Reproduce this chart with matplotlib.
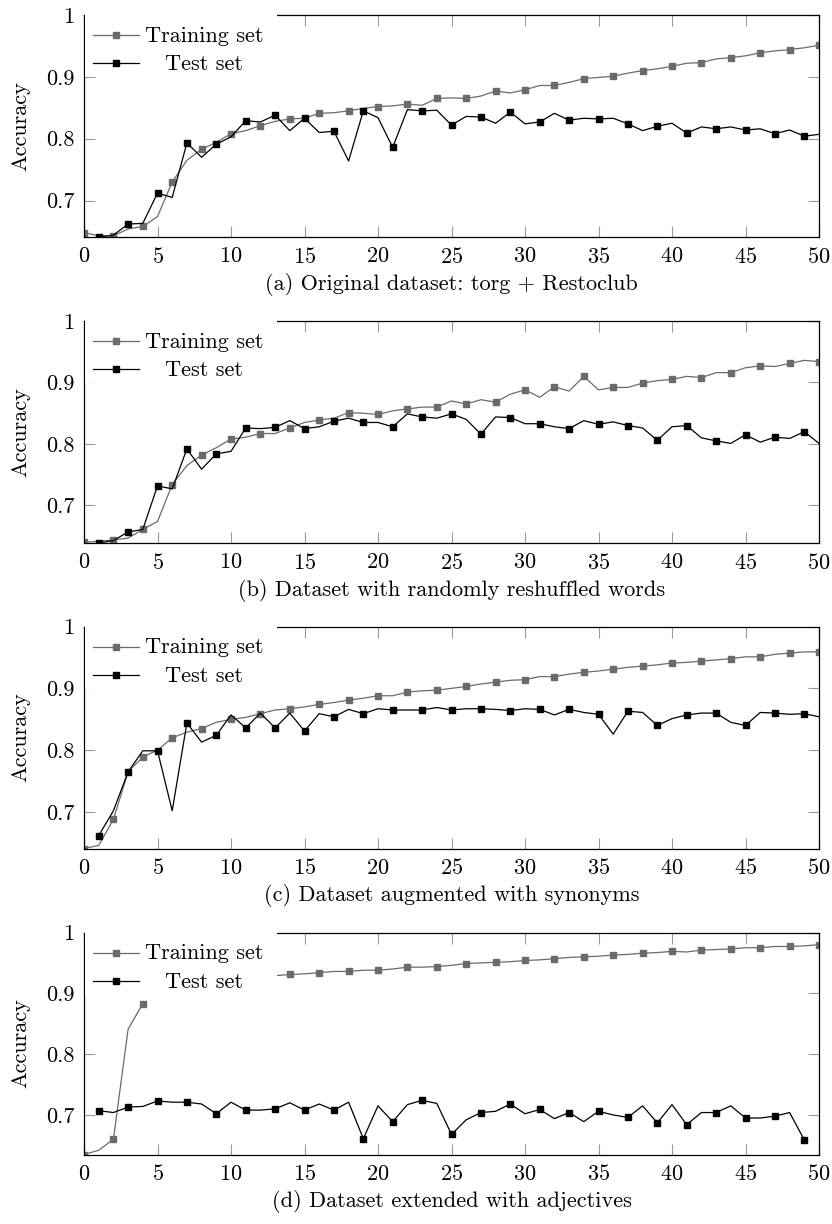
import numpy as np
import matplotlib
matplotlib.use("Agg")
import matplotlib.pyplot as plt
from matplotlib.patches import Rectangle
from matplotlib.lines import Line2D
from matplotlib.ticker import FuncFormatter

plt.rcParams['font.family'] = ['cmr10', 'DejaVu Serif']
plt.rcParams['axes.formatter.use_mathtext'] = True
plt.rcParams['font.size'] = 16

nan = np.nan

# epochs
epochs = list(range(51))

captions = [
    '(a) Original dataset: torg + Restoclub',
    '(b) Dataset with randomly reshuffled words',
    '(c) Dataset augmented with synonyms',
    '(d) Dataset extended with adjectives',
]

# training accuracy, epochs 0..50
train_a = [0.648, 0.643, 0.643, 0.654, 0.658, 0.674, 0.730, 0.765, 0.783, 0.794, 0.808,
           0.813, 0.821, 0.828, 0.832, 0.833, 0.841, 0.842, 0.845, 0.849, 0.852,
           0.853, 0.856, 0.854, 0.865, 0.866, 0.865, 0.869, 0.877, 0.874, 0.879,
           0.886, 0.886, 0.891, 0.897, 0.899, 0.901, 0.906, 0.910, 0.913, 0.917,
           0.922, 0.923, 0.929, 0.931, 0.934, 0.939, 0.942, 0.944, 0.947, 0.951]
train_b = [0.640, 0.642, 0.644, 0.647, 0.661, 0.674, 0.734, 0.765, 0.782, 0.794, 0.808,
           0.811, 0.817, 0.817, 0.826, 0.835, 0.839, 0.842, 0.851, 0.850, 0.848,
           0.854, 0.857, 0.860, 0.860, 0.870, 0.865, 0.872, 0.868, 0.881, 0.888,
           0.876, 0.893, 0.886, 0.910, 0.888, 0.892, 0.892, 0.899, 0.903, 0.905,
           0.910, 0.908, 0.916, 0.916, 0.924, 0.927, 0.926, 0.931, 0.936, 0.934]
train_c = [0.641, 0.646, 0.688, 0.765, 0.789, 0.800, 0.820, 0.829, 0.835, 0.845, 0.850,
           0.853, 0.859, 0.865, 0.867, 0.870, 0.874, 0.877, 0.881, 0.884, 0.888,
           0.888, 0.894, 0.896, 0.897, 0.900, 0.903, 0.907, 0.910, 0.913, 0.914,
           0.919, 0.919, 0.923, 0.926, 0.928, 0.931, 0.934, 0.936, 0.938, 0.941,
           0.942, 0.944, 0.946, 0.948, 0.951, 0.951, 0.955, 0.957, 0.959, 0.959]
# epochs 5..12 are hidden behind the legend in the original
train_d = [0.635, 0.642, 0.660, 0.841, 0.883,
           nan, nan, nan, nan, nan, nan, nan, nan,
           0.929, 0.931, 0.932, 0.934, 0.936, 0.936, 0.938, 0.938,
           0.940, 0.943, 0.943, 0.944, 0.946, 0.949, 0.950, 0.951, 0.952, 0.954,
           0.955, 0.957, 0.959, 0.960, 0.961, 0.963, 0.964, 0.966, 0.967, 0.969,
           0.968, 0.971, 0.972, 0.973, 0.975, 0.975, 0.977, 0.977, 0.978, 0.980]

# test accuracy, epochs 1..50 (1..49 for d)
test_a = [0.641, 0.644, 0.662, 0.663, 0.712, 0.705, 0.793, 0.770, 0.791, 0.803,
          0.829, 0.827, 0.838, 0.813, 0.833, 0.810, 0.812, 0.764, 0.845, 0.834,
          0.786, 0.847, 0.845, 0.846, 0.822, 0.836, 0.835, 0.825, 0.843, 0.824,
          0.827, 0.841, 0.830, 0.833, 0.832, 0.833, 0.824, 0.813, 0.820, 0.825,
          0.809, 0.819, 0.816, 0.819, 0.814, 0.816, 0.808, 0.814, 0.804, 0.807]
test_b = [0.639, 0.643, 0.657, 0.661, 0.732, 0.727, 0.792, 0.759, 0.784, 0.788,
          0.826, 0.825, 0.827, 0.838, 0.825, 0.828, 0.837, 0.842, 0.835, 0.835,
          0.828, 0.849, 0.844, 0.842, 0.849, 0.840, 0.816, 0.844, 0.843, 0.833,
          0.833, 0.828, 0.825, 0.838, 0.832, 0.836, 0.830, 0.826, 0.806, 0.828,
          0.830, 0.810, 0.805, 0.801, 0.815, 0.803, 0.811, 0.809, 0.820, 0.801]
test_c = [0.662, 0.702, 0.765, 0.799, 0.799, 0.702, 0.844, 0.813, 0.824, 0.857,
          0.836, 0.860, 0.836, 0.860, 0.831, 0.859, 0.854, 0.866, 0.859, 0.867,
          0.865, 0.865, 0.865, 0.869, 0.865, 0.867, 0.867, 0.866, 0.864, 0.867,
          0.866, 0.857, 0.866, 0.861, 0.858, 0.826, 0.863, 0.861, 0.840, 0.851,
          0.857, 0.860, 0.860, 0.845, 0.840, 0.861, 0.860, 0.858, 0.859, 0.854]
test_d = [0.707, 0.704, 0.713, 0.714, 0.723, 0.721, 0.721, 0.718, 0.702, 0.721,
          0.708, 0.708, 0.710, 0.720, 0.708, 0.718, 0.708, 0.721, 0.661, 0.715,
          0.689, 0.717, 0.724, 0.719, 0.668, 0.692, 0.704, 0.706, 0.718, 0.702,
          0.709, 0.694, 0.704, 0.689, 0.706, 0.700, 0.696, 0.715, 0.687, 0.717,
          0.684, 0.704, 0.704, 0.715, 0.695, 0.695, 0.698, 0.704, 0.659]

trains = [train_a, train_b, train_c, train_d]
tests = [test_a, test_b, test_c, test_d]

xticks = [0, 5, 10, 15, 20, 25, 30, 35, 40, 45, 50]
yticks = [0.7, 0.8, 0.9, 1.0]

gray = '#6b6b6b'
tickgray = '#9a9a9a'

fig = plt.figure(figsize=(8.32, 12.24), dpi=100)

left, width, height = 84 / 832, 735 / 832, 222 / 1224
bottoms = [1 - 237 / 1224, 1 - 543 / 1224, 1 - 848.5 / 1224, 1 - 1154.5 / 1224]

for i in range(4):
    ax = fig.add_axes([left, bottoms[i], width, height])
    tr = np.array(trains[i], dtype=float)
    te = np.array(tests[i], dtype=float)
    te_x = epochs[1:1 + len(te)]

    ax.plot(epochs, tr, color=gray, lw=0.9, marker='s', ms=5,
            markevery=(0, 2), zorder=2)
    ax.plot(te_x, te, color='black', lw=0.9, marker='s', ms=5,
            markevery=(0, 2), zorder=2.1)

    ymin = np.nanmin(np.concatenate([tr, te]))
    ax.set_xlim(0, 50)
    ax.set_ylim(ymin, 1.0)
    ax.set_xticks(xticks)
    ax.set_yticks(yticks)
    ax.yaxis.set_major_formatter(FuncFormatter(lambda v, p: '%g' % v))
    ax.tick_params(direction='in', length=8, width=0.8, color=tickgray,
                   top=True, right=True, pad=7, labelsize=16, labelcolor='black')
    for s in ax.spines.values():
        s.set_linewidth(0.9)
        s.set_color('black')

    ax.set_ylabel('Accuracy', fontsize=16)
    ax.yaxis.set_label_coords(-0.073, 0.5)

    # legend: white box with centered labels, drawn over the top spine
    ax.add_patch(Rectangle((0.0015, 0.72), 0.261, 0.30, transform=ax.transAxes,
                           facecolor='white', edgecolor='none', clip_on=False, zorder=2.6))
    for yl, yt, col, lab in [(0.908, 0.8795, gray, 'Training set'),
                             (0.782, 0.752, 'black', 'Test set')]:
        ax.add_line(Line2D([0.0127, 0.0748], [yl, yl], transform=ax.transAxes,
                           color=col, lw=0.9, zorder=2.7, clip_on=False))
        ax.add_line(Line2D([0.0437], [yl], transform=ax.transAxes, color=col,
                           marker='s', ms=5, zorder=2.8, clip_on=False))
        ax.text(0.1633, yt, lab, transform=ax.transAxes, ha='center',
                va='baseline', fontsize=16, zorder=2.9)

    ax.annotate(captions[i], xy=(0.5, 0), xycoords='axes fraction',
                xytext=(0, -34), textcoords='offset points',
                ha='center', va='center', fontsize=16)

fig.savefig('out.png', dpi=100)
